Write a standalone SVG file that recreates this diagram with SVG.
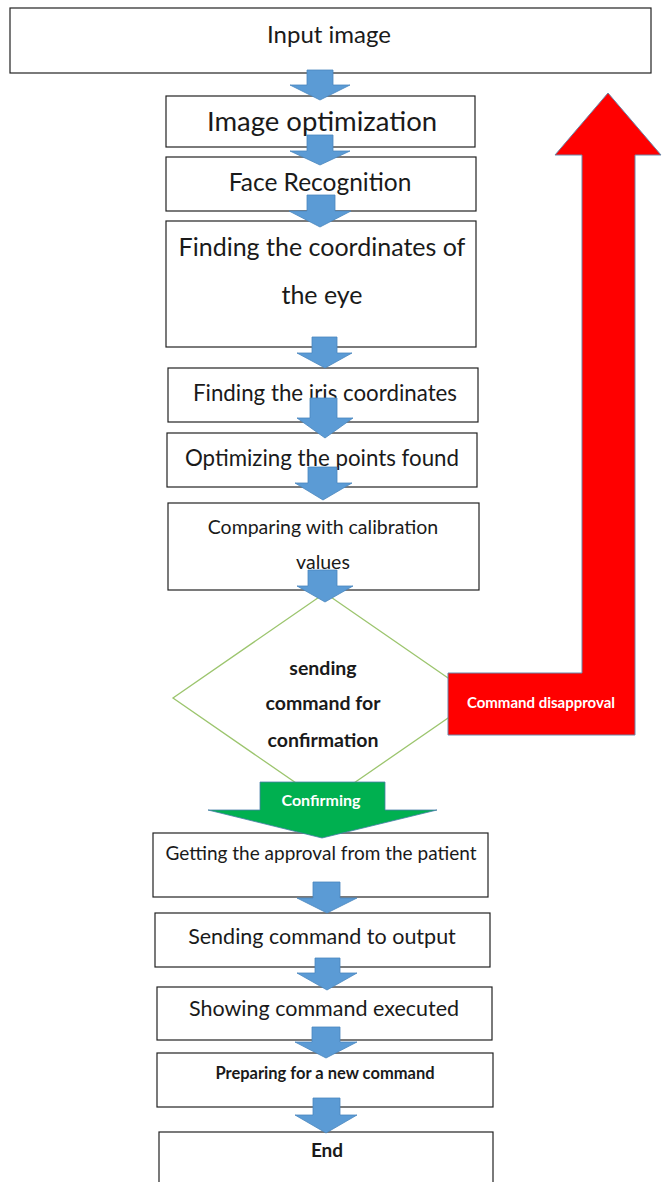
<svg xmlns="http://www.w3.org/2000/svg" width="669" height="1182" viewBox="0 0 669 1182">
<style>
.box{fill:#fff;stroke:#222;stroke-width:1.2}
.t{font-family:Lato,"Liberation Sans",sans-serif;fill:#1a1a1a;text-anchor:middle}
.b{font-weight:bold}
.w{fill:#fff;font-weight:bold}
.blue{fill:#5b9bd5;stroke:#4a86be;stroke-width:0.8}
</style>
<rect width="669" height="1182" fill="#fff"/>
<g id="n-input"><rect class="box" x="10" y="8" width="641" height="65"/><text class="t" x="329" y="43" font-size="24">Input image</text></g>
<g id="n-optim"><rect class="box" x="166" y="96" width="309" height="51"/><text class="t" x="322" y="131" font-size="27.5">Image optimization</text></g>
<g id="n-face"><rect class="box" x="166" y="157" width="310" height="54"/><text class="t" x="320" y="191" font-size="24.5">Face Recognition</text></g>
<g id="n-eye"><rect class="box" x="166" y="221" width="310" height="126"/><text class="t" x="322" y="256" font-size="25">Finding the coordinates of</text><text class="t" x="322" y="304" font-size="25">the eye</text></g>
<g id="n-iris"><rect class="box" x="168" y="368" width="310" height="54"/><text class="t" x="325" y="401" font-size="22.3">Finding the iris coordinates</text></g>
<g id="n-points"><rect class="box" x="167" y="433" width="310" height="54"/><text class="t" x="322" y="466" font-size="22.3">Optimizing the points found</text></g>
<g id="n-compare"><rect class="box" x="168" y="503" width="311" height="87"/><text class="t" x="323" y="534" font-size="19.5">Comparing with calibration</text><text class="t" x="323" y="569" font-size="19.5">values</text></g>
<g id="n-decision"><polygon points="325,593 477,698 325,803 173,698" fill="#fff" stroke="#9cc56e" stroke-width="1.3"/><text class="t b" x="323" y="675" font-size="19.5">sending</text><text class="t b" x="323" y="710" font-size="19.5">command for</text><text class="t b" x="323" y="747" font-size="19.5">confirmation</text></g>
<g id="n-approval"><rect class="box" x="153" y="833" width="335" height="64"/><text class="t" x="321" y="860" font-size="19">Getting the approval from the patient</text></g>
<g id="n-send"><rect class="box" x="155" y="913" width="335" height="54"/><text class="t" x="322" y="944" font-size="21.5">Sending command to output</text></g>
<g id="n-show"><rect class="box" x="157" y="987" width="335" height="53"/><text class="t" x="324" y="1016" font-size="21.5">Showing command executed</text></g>
<g id="n-prepare"><rect class="box" x="157" y="1053" width="336" height="54"/><text class="t b" x="325" y="1079" font-size="16.5">Preparing for a new command</text></g>
<g id="n-end"><rect class="box" x="159" y="1132" width="334" height="60"/><text class="t b" x="327" y="1157" font-size="19">End</text></g>
<g id="connectors">
<polygon class="blue" points="307,70 333,70 333,85 350,85 320,100 290,85 307,85"/>
<polygon class="blue" points="307,135 333,135 333,151 350,151 320,165 290,151 307,151"/>
<polygon class="blue" points="307,195 335,195 335,211 351,211 320,227 289,211 307,211"/>
<polygon class="blue" points="312,337 337,337 337,353 352,353 325,368 297,353 312,353"/>
<polygon class="blue" points="310,398 337,398 337,418 353,418 325,438 297,418 310,418"/>
<polygon class="blue" points="308,467 337,467 337,483 352,483 323,500 295,483 308,483"/>
<polygon class="blue" points="308,570 337,570 337,586 353,586 325,602 297,586 308,586"/>
<polygon class="blue" points="313,882 340,882 340,898 357,898 327,913 297,898 313,898"/>
<polygon class="blue" points="315,958 340,958 340,973 357,973 327,990 297,973 315,973"/>
<polygon class="blue" points="312,1027 340,1027 340,1042 357,1042 326,1058 295,1042 312,1042"/>
<polygon class="blue" points="313,1098 340,1098 340,1115 357,1115 326,1133 295,1115 313,1115"/>
<g id="e-disapproval"><polygon points="608,93 661,155 635,155 635,735 448,735 448,673 582,673 582,155 555,155" fill="#ff0000" stroke="#6a86a8" stroke-width="1"/><text class="t w" x="541" y="708" font-size="15">Command disapproval</text></g>
<g id="e-confirm"><polygon points="260,782 385,782 385,810 437,810 322,838 208,810 260,810" fill="#00b050" stroke="#4a7fa8" stroke-width="0.8"/><text class="t w" x="321" y="806" font-size="16">Confirming</text></g>
</g>
</svg>
